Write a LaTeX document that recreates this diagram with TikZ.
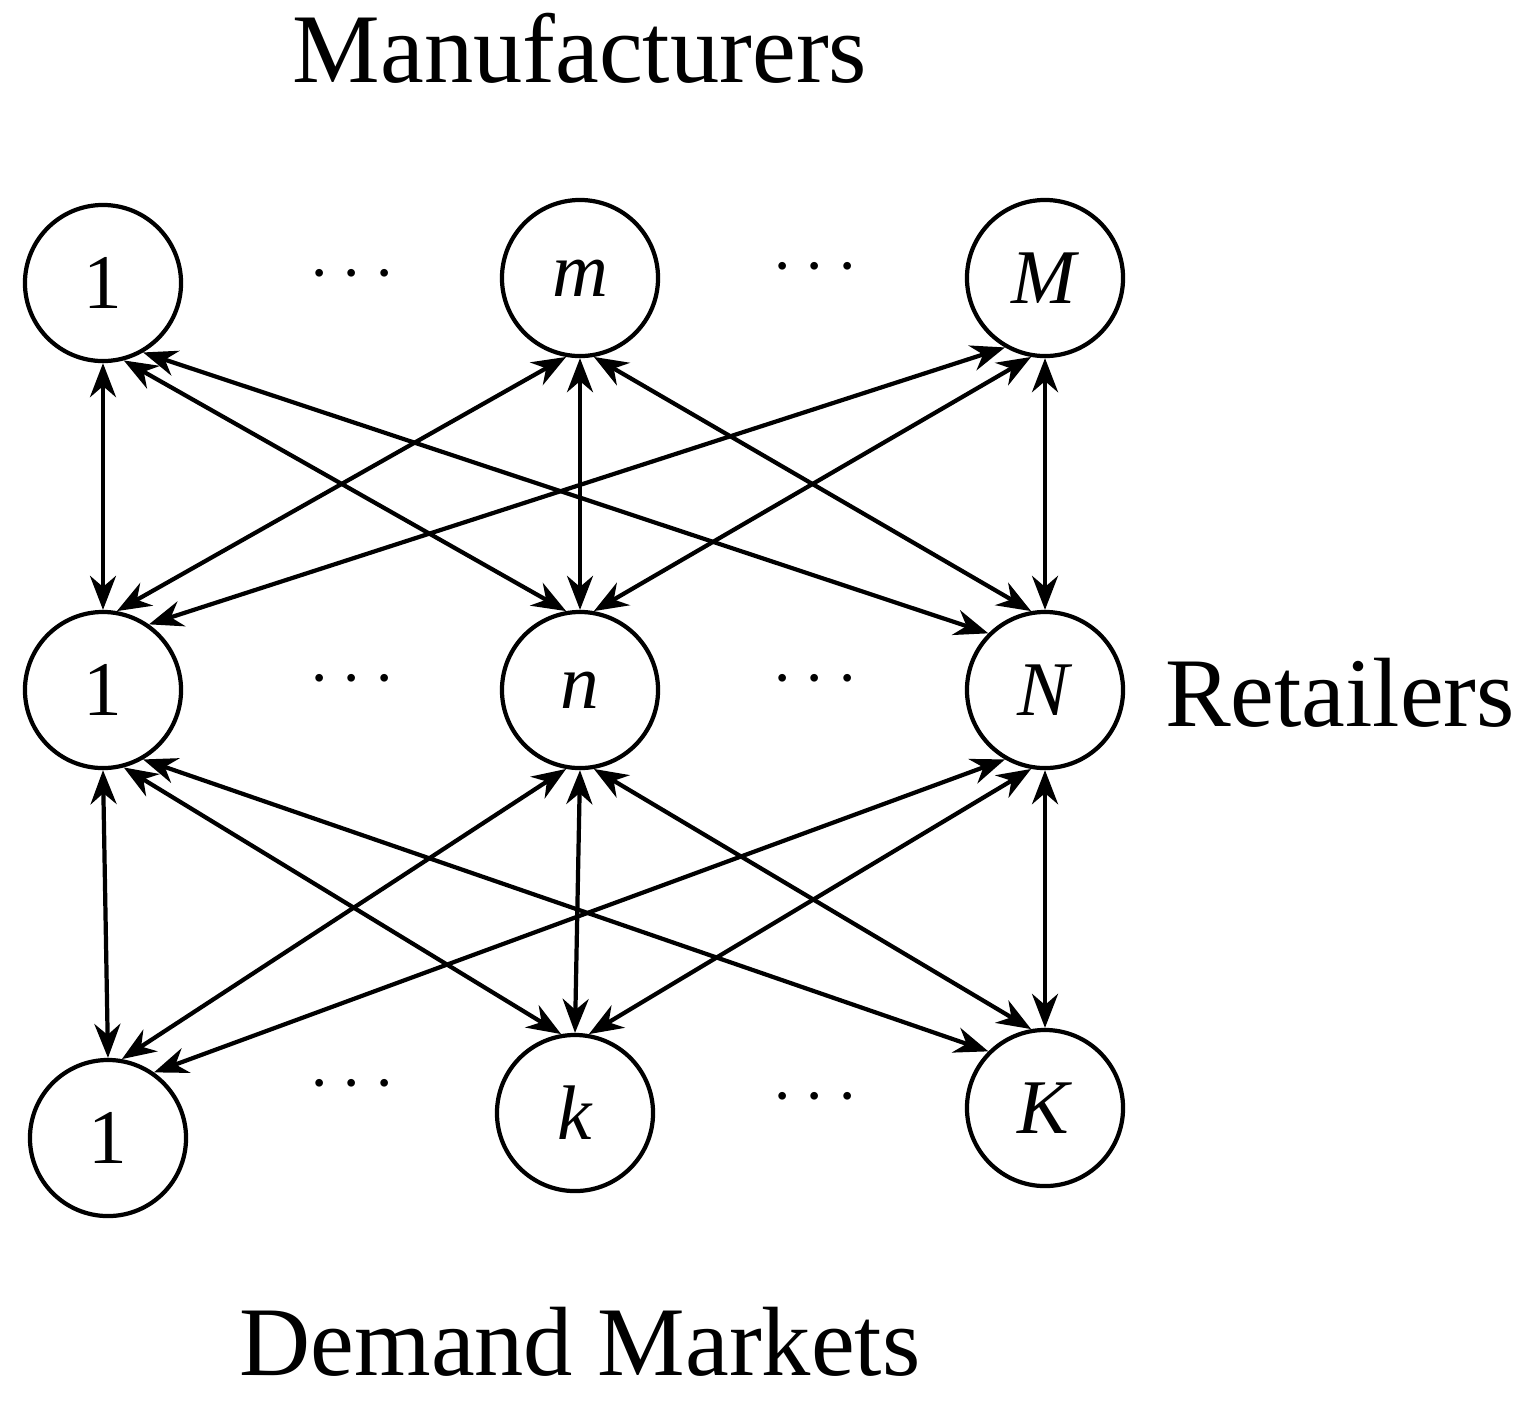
\documentclass[tikz,border=0pt]{standalone}
\usepackage{fontspec}
\setmainfont{Liberation Serif}
\usetikzlibrary{arrows.meta}
\begin{document}
\begin{tikzpicture}[x=0.01cm,y=-0.01cm,
  nd/.style={circle,draw,line width=1.2pt,minimum size=1.56cm,inner sep=0pt,font=\fontsize{22}{24}\selectfont},
  lbl/.style={font=\fontsize{28}{30}\selectfont},
  dt/.style={font=\fontsize{22}{24}\selectfont},
  ar/.style={line width=1.2pt,{Stealth[length=0.34cm,width=0.26cm]}-{Stealth[length=0.34cm,width=0.26cm]}}]
\useasboundingbox (0,0) rectangle (1528,1414);
\node[lbl] (tm) at (580,48) {Manufacturers};
\node[lbl] (tr) at (1340,693) {Retailers};
\node[lbl] (td) at (580,1342) {Demand Markets};
\node[nd] (a1) at (103,283) {1};
\node[nd] (a2) at (580,278) {\textit{m}};
\node[nd] (a3) at (1045,278) {\textit{M}};
\node[nd] (b1) at (103,690) {1};
\node[nd] (b2) at (580,690) {\textit{n}};
\node[nd] (b3) at (1045,690) {\textit{N}};
\node[nd] (c1) at (108,1138) {1};
\node[nd] (c2) at (575,1113) {\textit{k}};
\node[nd] (c3) at (1045,1108) {\textit{K}};
\foreach \x/\y/\n in {352/275/d1,815/268/d2,352/680/d3,815/680/d4,352/1085/d5,815/1098/d6}
  \node[dt] (\n) at (\x,\y) {$\cdots$};
\foreach \u/\v/\s/\t in {a1/b1/-90/90, a1/b2/-75/100, a1/b3/-60/135,
                         a2/b1/-100/80, a2/b2/-90/90, a2/b3/-80/100,
                         a3/b1/-120/55, a3/b2/-100/80, a3/b3/-90/90,
                         b1/c1/-90/90, b1/c2/-75/100, b1/c3/-60/135,
                         b2/c1/-100/80, b2/c2/-90/90, b2/c3/-80/100,
                         b3/c1/-120/55, b3/c2/-100/80, b3/c3/-90/90}
  \draw[ar] (\u.\s) -- (\v.\t);
\end{tikzpicture}
\end{document}
